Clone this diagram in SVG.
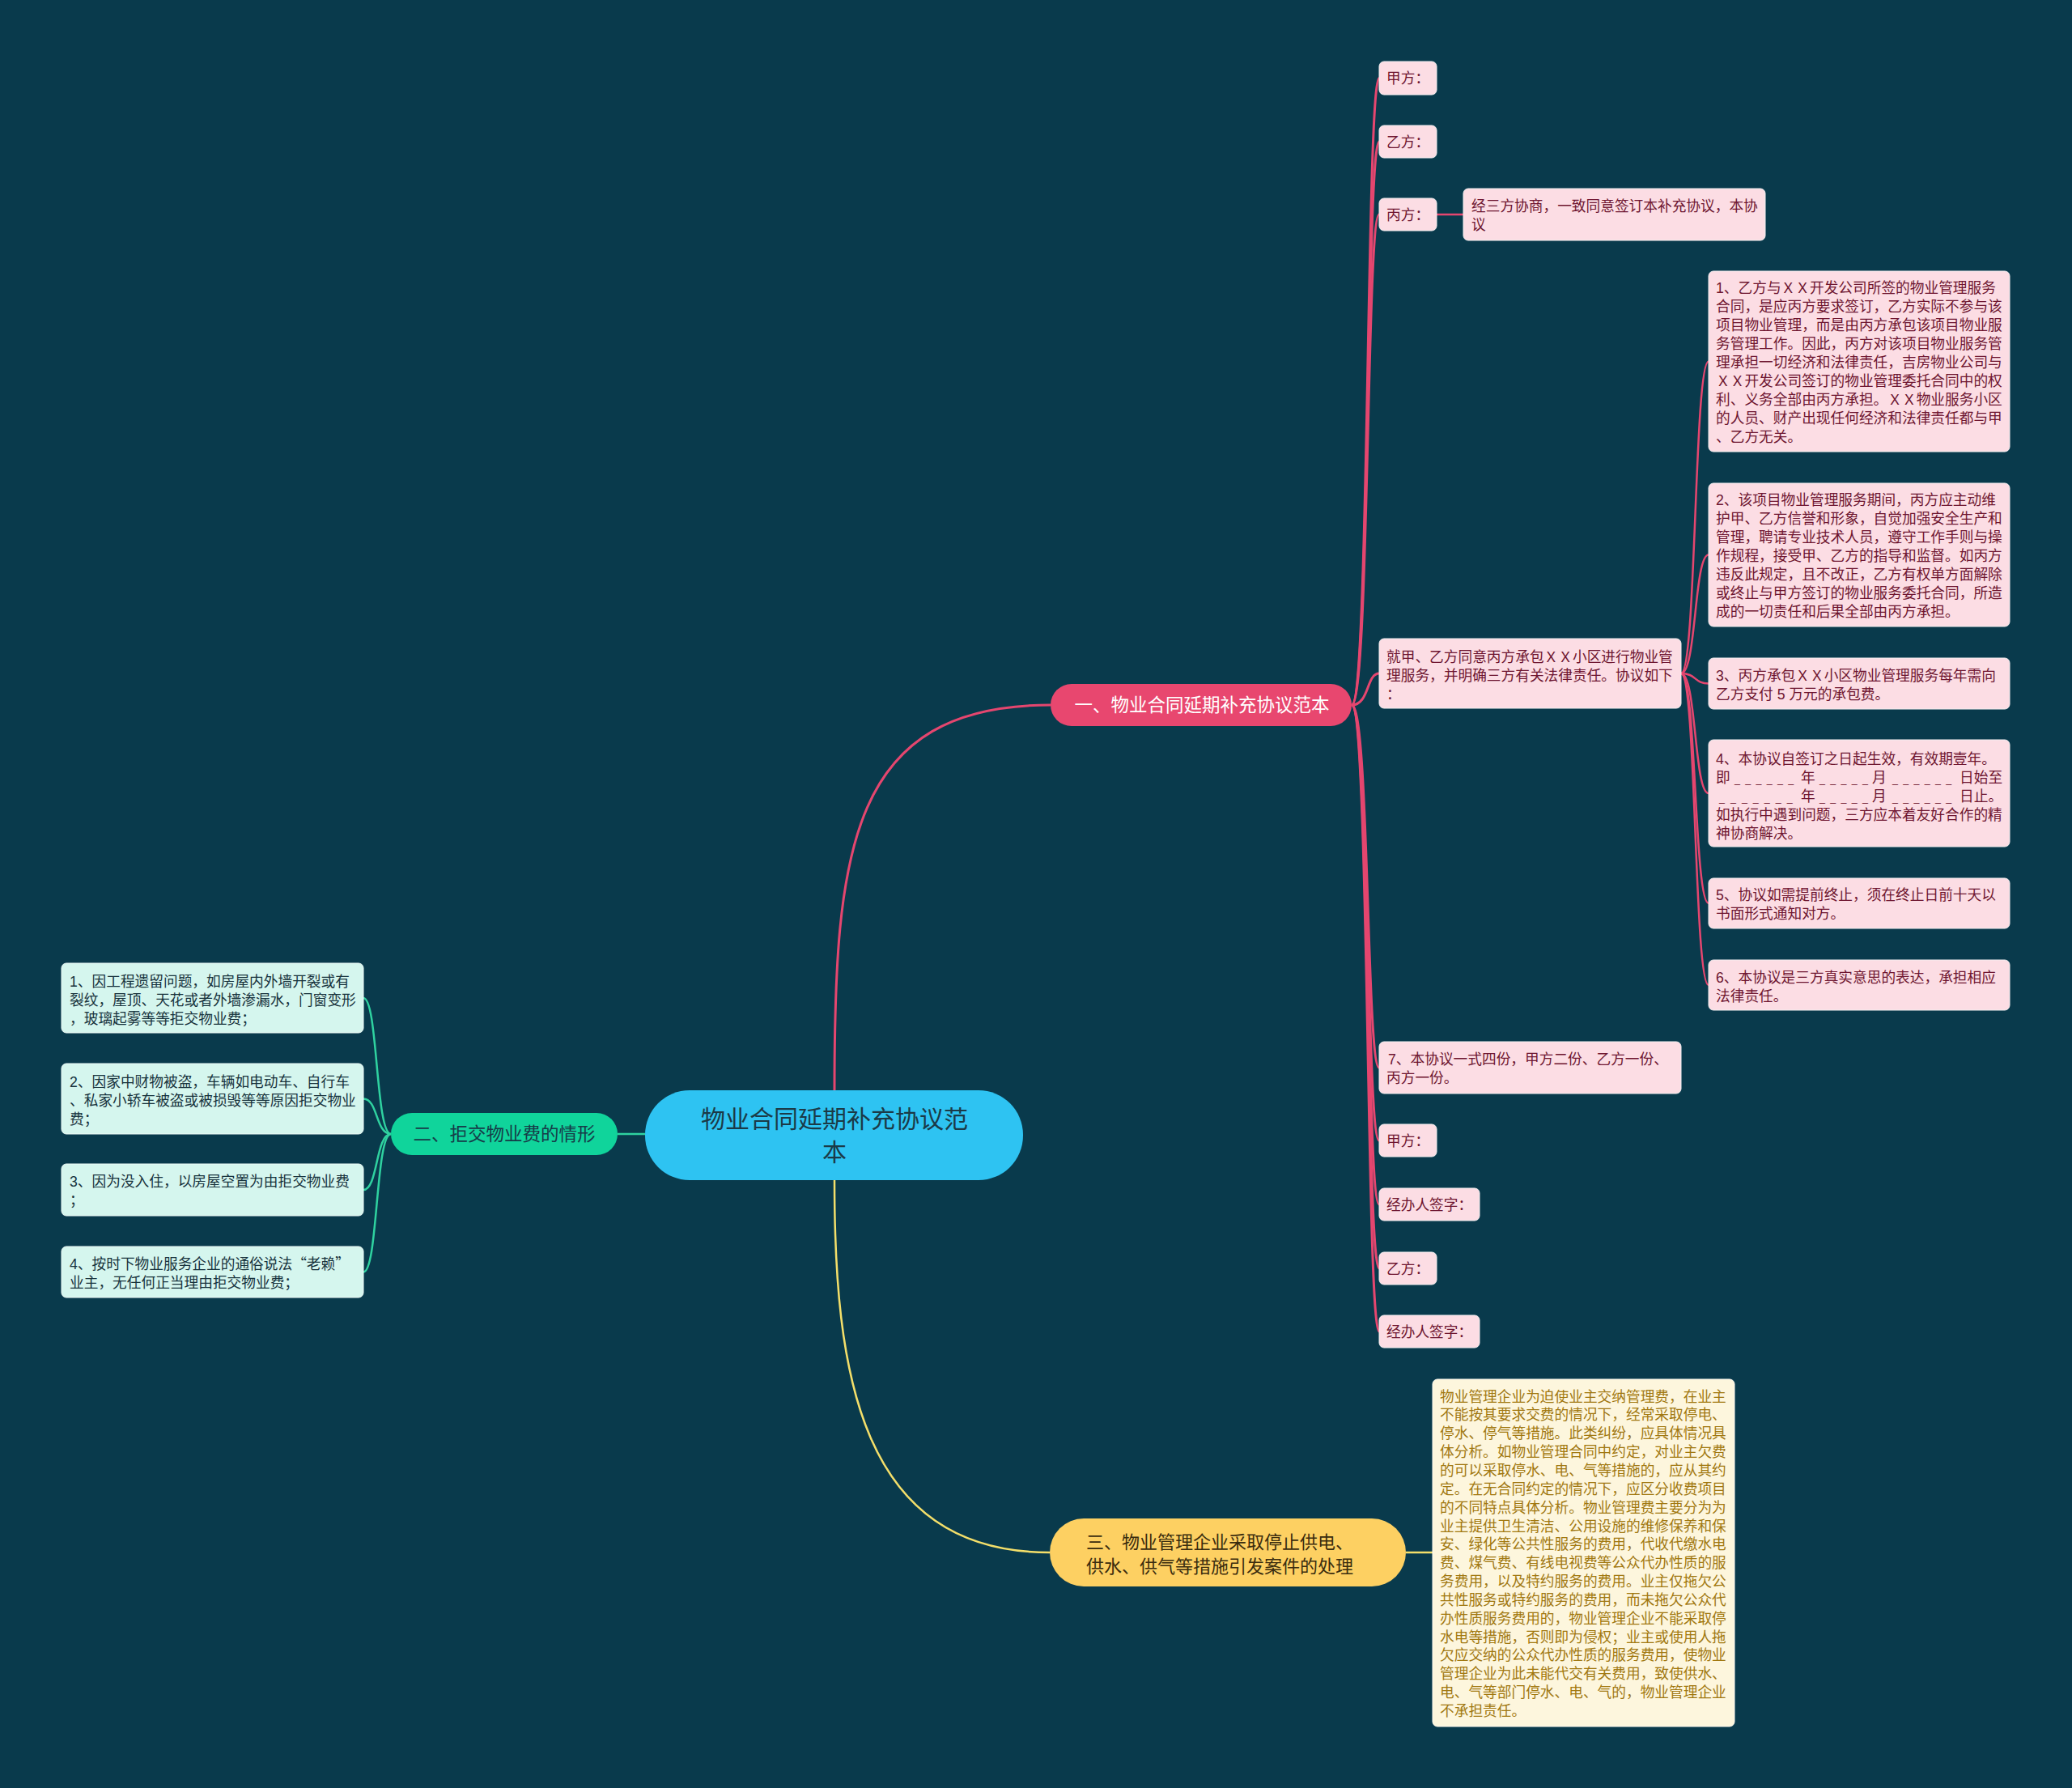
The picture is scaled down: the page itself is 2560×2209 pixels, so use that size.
<svg xmlns="http://www.w3.org/2000/svg" width="2560" height="2209" viewBox="0 0 2560 2209">
<style>
text{font-family:"Liberation Sans","Noto Sans CJK SC",sans-serif;}
.bg{fill:#093a4c;}
.pk{fill:#fcdde4;stroke:#f3eef0;stroke-width:1;}
.pkt{fill:#6e1530;font-size:17.7px;}
.gn{fill:#d5f6ee;stroke:#eefaf7;stroke-width:1;}
.gnt{fill:#17323c;font-size:17.7px;}
.cr{fill:#fdf6dd;stroke:#fffaf0;stroke-width:1;}
.crt{fill:#a17810;font-size:17.7px;}
.lr{fill:none;stroke:#e5466f;stroke-width:3;}
.lg{fill:none;stroke:#2fd2a0;stroke-width:2.5;}
.ly{fill:none;stroke:#f4df6a;stroke-width:2.5;}
.ds{font-size:12.5px;letter-spacing:6.3px;}
.cjk{font-family:"Noto Sans CJK SC",sans-serif;}
</style>
<rect class="bg" x="0" y="0" width="2560" height="2209"/>

<g id="connectors">
  <path class="lr" d="M1031 1347 C1031 1050 1050 871 1298 871"/>
  <path class="ly" d="M1031 1458 C1031 1690 1060 1918 1297 1918"/>
  <path class="lg" d="M797 1401 L763 1401"/>
  <path class="ly" d="M1737 1918 L1770 1918"/>
  <path class="lr" d="M1670 871 C1692 871 1688 96.5 1704 96.5"/>
  <path class="lr" d="M1670 871 C1692 871 1688 175 1704 175"/>
  <path class="lr" d="M1670 871 C1692 871 1688 265 1704 265"/>
  <path class="lr" d="M1670 871 C1692 871 1688 832 1704 832"/>
  <path class="lr" d="M1670 871 C1692 871 1688 1319 1704 1319"/>
  <path class="lr" d="M1670 871 C1692 871 1688 1409 1704 1409"/>
  <path class="lr" d="M1670 871 C1692 871 1688 1488 1704 1488"/>
  <path class="lr" d="M1670 871 C1692 871 1688 1567 1704 1567"/>
  <path class="lr" d="M1670 871 C1692 871 1688 1645 1704 1645"/>
  <path class="lr" d="M1775 265 L1808 265" style="stroke-width:2.5"/>
  <path class="lr" d="M2077 832 C2096 832 2093 446.5 2111 446.5" style="stroke-width:2.5"/>
  <path class="lr" d="M2077 832 C2096 832 2093 685.5 2111 685.5" style="stroke-width:2.5"/>
  <path class="lr" d="M2077 832 C2096 832 2093 844.5 2111 844.5" style="stroke-width:2.5"/>
  <path class="lr" d="M2077 832 C2096 832 2093 980 2111 980" style="stroke-width:2.5"/>
  <path class="lr" d="M2077 832 C2096 832 2093 1116 2111 1116" style="stroke-width:2.5"/>
  <path class="lr" d="M2077 832 C2096 832 2093 1217 2111 1217" style="stroke-width:2.5"/>
  <path class="lg" d="M483 1401 C464 1401 467 1233 449 1233"/>
  <path class="lg" d="M483 1401 C464 1401 467 1357.5 449 1357.5"/>
  <path class="lg" d="M483 1401 C464 1401 467 1470 449 1470"/>
  <path class="lg" d="M483 1401 C464 1401 467 1571.5 449 1571.5"/>
</g>

<g id="center">
  <rect x="797" y="1347" width="467" height="111" rx="55" fill="#2ec3f2"/>
  <text x="1031" y="1392.5" text-anchor="middle" font-size="30" fill="#1b3a47">物业合同延期补充协议范</text>
  <text x="1031" y="1433.5" text-anchor="middle" font-size="30" fill="#1b3a47">本</text>
</g>

<g id="branch1">
  <rect x="1298" y="845" width="372" height="52" rx="26" fill="#e8476f"/>
  <text x="1485" y="879" text-anchor="middle" font-size="22.5" fill="#ffffff">一、物业合同延期补充协议范本</text>
</g>

<g id="branch2">
  <rect x="483" y="1375" width="280" height="52" rx="26" fill="#10d49b"/>
  <text x="623" y="1409" text-anchor="middle" font-size="22.5" fill="#163c48">二、拒交物业费的情形</text>
</g>

<g id="branch3">
  <rect x="1297" y="1876" width="440" height="84" rx="42" fill="#fdd062"/>
  <text x="1342" y="1913" font-size="22" fill="#3a2c0e">三、物业管理企业采取停止供电、</text>
  <text x="1342" y="1943" font-size="22" fill="#3a2c0e">供水、供气等措施引发案件的处理</text>
</g>

<g id="n-jiafang1">
  <rect class="pk" x="1704" y="76" width="71" height="41" rx="6"/>
  <text class="pkt" x="1713" y="103">甲方：</text>
</g>
<g id="n-yifang1">
  <rect class="pk" x="1704" y="155" width="71" height="40" rx="6"/>
  <text class="pkt" x="1713" y="181.5">乙方：</text>
</g>
<g id="n-bingfang">
  <rect class="pk" x="1704" y="245" width="71" height="40" rx="6"/>
  <text class="pkt" x="1713" y="271.5">丙方：</text>
</g>
<g id="n-xieshang">
  <rect class="pk" x="1808" y="233" width="373" height="64" rx="6"/>
  <text class="pkt" x="1818" y="260.5">经三方协商，一致同意签订本补充协议，本协</text>
  <text class="pkt" x="1818" y="283.5">议</text>
</g>
<g id="n-jiujia">
  <rect class="pk" x="1704" y="789" width="373" height="86" rx="6"/>
  <text class="pkt" x="1713" y="817.5">就甲、乙方同意丙方承包ＸＸ小区进行物业管</text>
  <text class="pkt" x="1713" y="840.5">理服务，并明确三方有关法律责任。协议如下</text>
  <text class="pkt" x="1713" y="863.5">：</text>
</g>
<g id="n-item1">
  <rect class="pk" x="2111" y="335" width="372" height="223" rx="6"/>
  <text class="pkt" x="2120" y="361.5">1、乙方与ＸＸ开发公司所签的物业管理服务</text>
  <text class="pkt" x="2120" y="384.6">合同，是应丙方要求签订，乙方实际不参与该</text>
  <text class="pkt" x="2120" y="407.7">项目物业管理，而是由丙方承包该项目物业服</text>
  <text class="pkt" x="2120" y="430.8">务管理工作。因此，丙方对该项目物业服务管</text>
  <text class="pkt" x="2120" y="453.9">理承担一切经济和法律责任，吉房物业公司与</text>
  <text class="pkt" x="2120" y="477">ＸＸ开发公司签订的物业管理委托合同中的权</text>
  <text class="pkt" x="2120" y="500.1">利、义务全部由丙方承担。ＸＸ物业服务小区</text>
  <text class="pkt" x="2120" y="523.2">的人员、财产出现任何经济和法律责任都与甲</text>
  <text class="pkt" x="2120" y="546.3">、乙方无关。</text>
</g>
<g id="n-item2">
  <rect class="pk" x="2111" y="597" width="372" height="177" rx="6"/>
  <text class="pkt" x="2120" y="623.5">2、该项目物业管理服务期间，丙方应主动维</text>
  <text class="pkt" x="2120" y="646.6">护甲、乙方信誉和形象，自觉加强安全生产和</text>
  <text class="pkt" x="2120" y="669.7">管理，聘请专业技术人员，遵守工作手则与操</text>
  <text class="pkt" x="2120" y="692.8">作规程，接受甲、乙方的指导和监督。如丙方</text>
  <text class="pkt" x="2120" y="715.9">违反此规定，且不改正，乙方有权单方面解除</text>
  <text class="pkt" x="2120" y="739">或终止与甲方签订的物业服务委托合同，所造</text>
  <text class="pkt" x="2120" y="762.1">成的一切责任和后果全部由丙方承担。</text>
</g>
<g id="n-item3">
  <rect class="pk" x="2111" y="813" width="372" height="63" rx="6"/>
  <text class="pkt" x="2120" y="840.5">3、丙方承包ＸＸ小区物业管理服务每年需向</text>
  <text class="pkt" x="2120" y="863.5">乙方支付 5 万元的承包费。</text>
</g>
<g id="n-item4">
  <rect class="pk" x="2111" y="914" width="372" height="132" rx="6"/>
  <text class="pkt" x="2120" y="943.5">4、本协议自签订之日起生效，有效期壹年。</text>
  <text class="pkt" y="966.5"><tspan x="2120">即</tspan><tspan class="ds" x="2143">______</tspan><tspan x="2225">年</tspan><tspan class="ds" x="2248">_____</tspan><tspan x="2313">月</tspan><tspan class="ds" x="2338">______</tspan><tspan x="2421">日始至</tspan></text>
  <text class="pkt" y="989.5"><tspan class="ds" x="2124" style="letter-spacing:7px">_______</tspan><tspan x="2225">年</tspan><tspan class="ds" x="2248">_____</tspan><tspan x="2313">月</tspan><tspan class="ds" x="2338">______</tspan><tspan x="2421">日止。</tspan></text>
  <text class="pkt" x="2120" y="1012.5">如执行中遇到问题，三方应本着友好合作的精</text>
  <text class="pkt" x="2120" y="1035.5">神协商解决。</text>
</g>
<g id="n-item5">
  <rect class="pk" x="2111" y="1085" width="372" height="62" rx="6"/>
  <text class="pkt" x="2120" y="1111.5">5、协议如需提前终止，须在终止日前十天以</text>
  <text class="pkt" x="2120" y="1134.5">书面形式通知对方。</text>
</g>
<g id="n-item6">
  <rect class="pk" x="2111" y="1186" width="372" height="62" rx="6"/>
  <text class="pkt" x="2120" y="1213.5">6、本协议是三方真实意思的表达，承担相应</text>
  <text class="pkt" x="2120" y="1236.5">法律责任。</text>
</g>
<g id="n-item7">
  <rect class="pk" x="1704" y="1287" width="373" height="64" rx="6"/>
  <text class="pkt" x="1715" y="1314.5">7、本协议一式四份，甲方二份、乙方一份、</text>
  <text class="pkt" x="1713" y="1337.5">丙方一份。</text>
</g>
<g id="n-jiafang2">
  <rect class="pk" x="1704" y="1389" width="71" height="40" rx="6"/>
  <text class="pkt" x="1713" y="1415.5">甲方：</text>
</g>
<g id="n-sign1">
  <rect class="pk" x="1704" y="1468" width="124" height="40" rx="6"/>
  <text class="pkt" x="1713" y="1494.5">经办人签字：</text>
</g>
<g id="n-yifang2">
  <rect class="pk" x="1704" y="1547" width="71" height="40" rx="6"/>
  <text class="pkt" x="1713" y="1573.5">乙方：</text>
</g>
<g id="n-sign2">
  <rect class="pk" x="1704" y="1625" width="124" height="40" rx="6"/>
  <text class="pkt" x="1713" y="1651.5">经办人签字：</text>
</g>

<g id="n-refuse1">
  <rect class="gn" x="76" y="1190" width="373" height="86" rx="6"/>
  <text class="gnt" x="86" y="1218.5">1、因工程遗留问题，如房屋内外墙开裂或有</text>
  <text class="gnt" x="86" y="1241.5">裂纹，屋顶、天花或者外墙渗漏水，门窗变形</text>
  <text class="gnt" x="86" y="1264.5">，玻璃起雾等等拒交物业费；</text>
</g>
<g id="n-refuse2">
  <rect class="gn" x="76" y="1314" width="373" height="87" rx="6"/>
  <text class="gnt" x="86" y="1342.5">2、因家中财物被盗，车辆如电动车、自行车</text>
  <text class="gnt" x="86" y="1365.5">、私家小轿车被盗或被损毁等等原因拒交物业</text>
  <text class="gnt" x="86" y="1388.5">费；</text>
</g>
<g id="n-refuse3">
  <rect class="gn" x="76" y="1438" width="373" height="64" rx="6"/>
  <text class="gnt" x="86" y="1465.5">3、因为没入住，以房屋空置为由拒交物业费</text>
  <text class="gnt" x="86" y="1488.5">；</text>
</g>
<g id="n-refuse4">
  <rect class="gn" x="76" y="1540" width="373" height="63" rx="6"/>
  <text class="gnt" x="86" y="1567.5">4、按时下物业服务企业的通俗说法<tspan class="cjk">“</tspan>老赖<tspan class="cjk">”</tspan></text>
  <text class="gnt" x="86" y="1590.5">业主，无任何正当理由拒交物业费；</text>
</g>

<g id="n-handling">
  <rect class="cr" x="1770" y="1704" width="373" height="429" rx="6"/>
  <text class="crt" x="1779" y="1731.5">物业管理企业为迫使业主交纳管理费，在业主</text>
  <text class="crt" x="1779" y="1754.4">不能按其要求交费的情况下，经常采取停电、</text>
  <text class="crt" x="1779" y="1777.2">停水、停气等措施。此类纠纷，应具体情况具</text>
  <text class="crt" x="1779" y="1800.1">体分析。如物业管理合同中约定，对业主欠费</text>
  <text class="crt" x="1779" y="1822.9">的可以采取停水、电、气等措施的，应从其约</text>
  <text class="crt" x="1779" y="1845.8">定。在无合同约定的情况下，应区分收费项目</text>
  <text class="crt" x="1779" y="1868.6">的不同特点具体分析。物业管理费主要分为为</text>
  <text class="crt" x="1779" y="1891.5">业主提供卫生清洁、公用设施的维修保养和保</text>
  <text class="crt" x="1779" y="1914.3">安、绿化等公共性服务的费用，代收代缴水电</text>
  <text class="crt" x="1779" y="1937.2">费、煤气费、有线电视费等公众代办性质的服</text>
  <text class="crt" x="1779" y="1960">务费用，以及特约服务的费用。业主仅拖欠公</text>
  <text class="crt" x="1779" y="1982.9">共性服务或特约服务的费用，而未拖欠公众代</text>
  <text class="crt" x="1779" y="2005.7">办性质服务费用的，物业管理企业不能采取停</text>
  <text class="crt" x="1779" y="2028.6">水电等措施，否则即为侵权；业主或使用人拖</text>
  <text class="crt" x="1779" y="2051.4">欠应交纳的公众代办性质的服务费用，使物业</text>
  <text class="crt" x="1779" y="2074.3">管理企业为此未能代交有关费用，致使供水、</text>
  <text class="crt" x="1779" y="2097.1">电、气等部门停水、电、气的，物业管理企业</text>
  <text class="crt" x="1779" y="2120">不承担责任。</text>
</g>
</svg>
